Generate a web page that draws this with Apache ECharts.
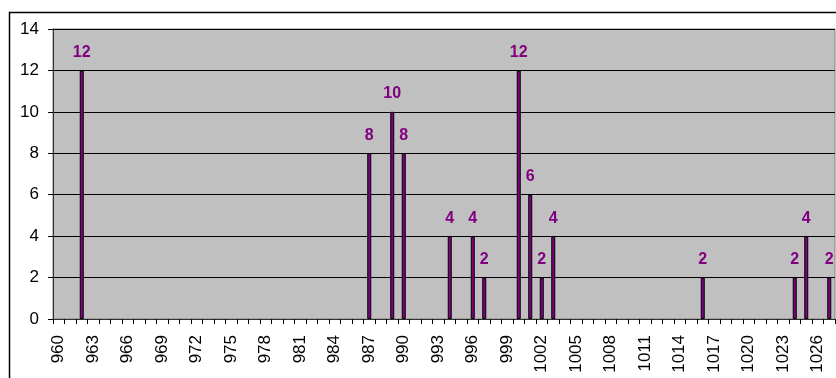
<!DOCTYPE html>
<html>
<head>
<meta charset="utf-8">
<script src="https://cdn.jsdelivr.net/npm/echarts@6/dist/echarts.min.js"></script>
<style>
  html, body { margin: 0; padding: 0; background: #fff; }
  #chart { width: 836px; height: 378px; }
</style>
</head>
<body>
<div id="chart"></div>
<script>
// categories 960..1027, one per integer
const categories = []
for (let c = 960; c <= 1027; c++) categories.push(String(c))

const barCats = ['962', '987', '989', '990', '994', '996', '997', '1000', '1001', '1002', '1003', '1016', '1024', '1025', '1027']
const barValues = [12, 8, 10, 8, 4, 4, 2, 12, 6, 2, 4, 2, 2, 4, 2]

const yTicks = { min: 0, max: 14, interval: 2 }

const seriesData = categories.map(c => {
  const i = barCats.indexOf(c)
  return i >= 0 ? barValues[i] : null
})

const chart = echarts.init(document.getElementById('chart'))

const option = {
  animation: false,
  graphic: [
    {
      type: 'rect',
      left: 7,
      top: 10,
      shape: { width: 900, height: 500 },
      style: { fill: 'none', stroke: '#000', lineWidth: 1.5 },
      z: -1
    }
  ],
  grid: {
    left: 53,
    top: 29,
    right: 1,
    bottom: 59,
    show: true,
    backgroundColor: '#c0c0c0',
    borderColor: '#808080',
    borderWidth: 1
  },
  xAxis: {
    type: 'category',
    data: categories,
    axisLine: { lineStyle: { color: '#303030', width: 1 } },
    axisTick: { show: true, length: 5, interval: 0, lineStyle: { color: '#000' } },
    axisLabel: {
      interval: 2,
      rotate: 90,
      margin: 16,
      color: '#000',
      fontFamily: 'Liberation Sans',
      fontSize: 17
    },
    splitLine: { show: false }
  },
  yAxis: {
    type: 'value',
    min: yTicks.min,
    max: yTicks.max,
    interval: yTicks.interval,
    axisLine: { show: true, lineStyle: { color: '#303030', width: 1 } },
    axisTick: { show: true, length: 5, lineStyle: { color: '#000' } },
    axisLabel: {
      margin: 14,
      color: '#000',
      fontFamily: 'Liberation Sans',
      fontSize: 17
    },
    splitLine: { show: true, lineStyle: { color: '#000', width: 1 } }
  },
  series: [
    {
      type: 'bar',
      data: seriesData,
      barWidth: 4,
      itemStyle: { color: '#800080', borderColor: '#000', borderWidth: 1 },
      label: {
        show: true,
        position: 'top',
        distance: 10,
        color: '#800080',
        fontFamily: 'Liberation Sans',
        fontWeight: 'bold',
        fontSize: 16
      }
    }
  ]
}

chart.setOption(option)
</script>
</body>
</html>
